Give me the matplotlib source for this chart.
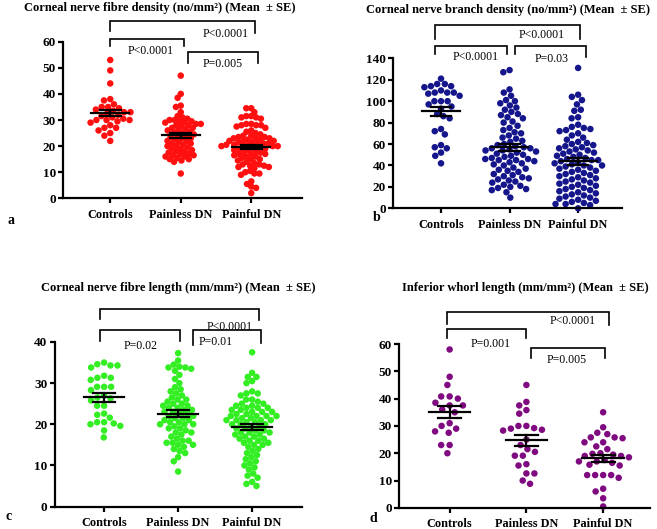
import numpy as np
import matplotlib
matplotlib.use('Agg')
import matplotlib.pyplot as plt

plt.rcParams['font.family'] = ['Liberation Serif', 'DejaVu Serif']

groups = ['Controls', 'Painless DN', 'Painful DN']

# a: corneal nerve fibre density
cnfd_controls = [53, 49, 44, 38, 37.5, 36, 35, 35, 34.5, 34, 33.5, 33, 33, 32.5, 32,
                 31.5, 31, 30.5, 30, 30, 30, 29.5, 29, 28, 27, 27, 26, 25, 24, 22]
cnfd_painless = [47, 40, 38.5, 35.5, 35, 33, 31.5, 31, 30.5, 30, 30, 29.5, 29.5, 29, 29,
                 28.5, 28.5, 28, 28, 27.5, 27, 27, 26.5, 26, 26, 25.5, 25, 25, 24.5, 24,
                 24, 23.5, 23, 23, 22.5, 22, 22, 21.5, 21, 21, 20.5, 20, 20, 19.5, 19,
                 19, 18.5, 18, 18, 17.5, 17, 17, 16.5, 16.5, 16, 16, 15.5, 15, 15, 14.5,
                 14, 9.5]
cnfd_painful = [34.5, 34.5, 33, 31.5, 31.5, 31, 31, 30.5, 28.5, 28.5, 28, 28, 28, 27.5,
                27, 26, 25.5, 25, 24.5, 24, 23.5, 23.5, 23, 23, 23, 22.5, 22.5, 22, 22,
                21.5, 21.5, 21, 21, 20.5, 20.5, 20, 20, 20, 20, 19.5, 19.5, 19, 19, 18.5,
                18.5, 18, 17.5, 17.5, 17, 17, 17, 16.5, 16, 16, 15.5, 15, 15, 14.5, 14,
                13.5, 13, 13, 12.5, 12.5, 12, 12, 11.5, 10.5, 10, 9.5, 9.5, 9, 6.5, 5.5,
                4.5, 4, 2, 24, 22, 21, 20.5]

# b: corneal nerve branch density
cnbd_controls = [121, 116, 116, 114, 114, 113, 110, 108, 108, 108, 107, 105, 100, 100,
                 100, 97, 95, 93, 88, 86, 84, 74, 72, 69, 59, 57, 56, 52, 49, 42]
cnbd_painless = [129, 127, 111, 108, 105, 101, 100, 98, 96, 94, 92, 90, 88, 87, 85, 84,
                 81, 80, 77, 75, 73, 71, 70, 68, 66, 65, 63, 62, 60, 59, 58, 57, 56, 56,
                 55, 54, 54, 53, 52, 51, 50, 49, 48, 47, 46, 46, 45, 45, 44, 43, 42, 41,
                 40, 38, 37, 36, 35, 34, 32, 31, 30, 29, 28, 27, 26, 25, 24, 22, 21, 20,
                 19, 18, 17, 15, 10]
cnbd_painful = [131, 106, 104, 101, 97, 92, 91, 85, 84, 78, 76, 75, 74, 73, 72, 70, 68,
                66, 64, 62, 61, 60, 59, 58, 57, 56, 55, 54, 53, 52, 51, 50, 49, 48, 47,
                46, 45, 45, 44, 43, 42, 41, 40, 40, 39, 38, 37, 36, 35, 34, 33, 32, 31,
                30, 29, 28, 27, 26, 25, 24, 23, 22, 21, 20, 19, 18, 17, 16, 15, 14, 13,
                12, 11, 10, 9, 8, 7, 6, 5, 4, 4, 3, 0]

# c: corneal nerve fibre length
cnfl_controls = [35, 34.3, 34.3, 33.8, 34.6, 31.3, 31.3, 30.8, 31.8, 29.1, 29.1, 29.1,
                 28.3, 27, 26.5, 26.3, 25.8, 24.5, 24.5, 22.6, 22.3, 21.6, 20, 20.5,
                 20.2, 19.6, 20.5, 18.5, 16.8]
cnfl_painless = [37.3, 35.5, 34.5, 34, 33.8, 33.8, 33.5, 33, 32, 31, 30, 29, 28.5, 28,
                 27.5, 27, 26.5, 26, 26, 25.5, 25, 25, 24.5, 24.5, 24, 24, 23.5, 23.5,
                 23, 23, 22.5, 22.5, 22, 22, 21.5, 21.5, 21, 21, 20.5, 20.5, 20, 20, 20,
                 19.5, 19, 19, 18.5, 18, 18, 17.5, 17, 16.5, 16, 16, 15.5, 15.5, 15, 15,
                 14.5, 14, 13.5, 13, 12, 11, 8.5]
cnfl_painful = [37.5, 32.5, 31.5, 31.5, 30.5, 30, 28, 27.5, 27.5, 27, 26, 26, 25.5, 25,
                25, 24.5, 24.5, 24, 24, 23.5, 23.5, 23, 23, 22.5, 22.5, 22, 22, 22, 21.5,
                21.5, 21, 21, 21, 20.5, 20.5, 20, 20, 20, 19.5, 19.5, 19, 19, 18.5, 18.5,
                18, 18, 18, 17.5, 17.5, 17, 17, 16.5, 16.5, 16, 16, 15.5, 15.5, 15, 15,
                14.5, 14, 13.5, 13, 12.5, 12, 11.5, 11, 10.5, 10, 9.5, 9, 8, 7.5, 7, 6,
                5.5, 5, 21, 22, 23, 24]

# d: inferior whorl length
iwl_controls = [58, 48, 45, 40.8, 40.8, 40, 38.5, 37.5, 37.5, 36, 35, 31, 30, 29, 28,
                27.5, 23, 23, 20]
iwl_painless = [45, 38.8, 37.5, 35.8, 34.5, 30, 29, 30, 28.3, 29.2, 28.6, 25, 23, 21.5,
                20.5, 19.1, 19.1, 16, 15.5, 12.6, 12.6, 8.8, 10]
iwl_painful = [35, 29.5, 27.5, 27, 25.8, 25.8, 25.5, 24, 24, 22.5, 21.5, 20, 19.8, 19.5,
               19, 19, 18.5, 17.5, 17, 17, 16.5, 15.8, 15.5, 12, 12, 12, 12, 11, 7, 6,
               3.5, 0.5]

titles = ['Corneal nerve fibre density (no/mm\u00b2) (Mean  \u00b1 SE)',
          'Corneal nerve branch density (no/mm\u00b2) (Mean  \u00b1 SE)',
          'Corneal nerve fibre length (mm/mm\u00b2) (Mean  \u00b1 SE)',
          'Inferior whorl length (mm/mm\u00b2) (Mean  \u00b1 SE)']
p_labels = [['P<0.0001', 'P<0.0001', 'P=0.005'],
            ['P<0.0001', 'P<0.0001', 'P=0.03'],
            ['P<0.0001', 'P=0.02', 'P=0.01'],
            ['P<0.0001', 'P=0.001', 'P=0.005']]

# swarm spacing (px) per group
panels = [
    dict(data=[cnfd_controls, cnfd_painless, cnfd_painful], color='#ff1010',
         diam=[6.4, 5.0, 5.0],
         rect=[0.0959, 0.6251, 0.3638, 0.2961], xlim=(-0.67, 2.72), ylim=(0, 60),
         yticks=np.arange(0, 61, 10), title_xy=(0.2435, 0.984), letter='a',
         letter_xy=(0.012, 0.571),
         brackets=[(0, 2.05, 67.8, 64, 63.3, 1.63, 63),
                   (0, 1.04, 61, 58.2, 58.2, 0.57, 56.3),
                   (1.1, 2.1, 55.9, 51.8, 51.8, 1.59, 51.5)]),
    dict(data=[cnbd_controls, cnbd_painless, cnbd_painful], color='#16168c',
         diam=[6.6, 6.6, 6.6],
         rect=[0.5982, 0.6062, 0.3485, 0.2836], xlim=(-0.70, 2.64), ylim=(0, 140),
         yticks=np.arange(0, 141, 20), title_xy=(0.773, 0.982), letter='b',
         letter_xy=(0.567, 0.577),
         brackets=[(-0.09, 2.03, 171, 157.8, 157.8, 1.47, 161.8),
                   (-0.09, 0.96, 151.5, 144, 144, 0.5, 141),
                   (1.08, 2.12, 151.5, 144, 141.5, 1.61, 139)]),
    dict(data=[cnfl_controls, cnfl_painless, cnfl_painful], color='#33ee22',
         diam=[7.0, 6.0, 6.0],
         rect=[0.0830, 0.0425, 0.3762, 0.3110], xlim=(-0.67, 2.67), ylim=(0, 40),
         yticks=np.arange(0, 41, 10), title_xy=(0.271, 0.4556), letter='c',
         letter_xy=(0.008, 0.011),
         brackets=[(-0.06, 2.09, 48, 45.6, 45.3, 1.70, 43.7),
                   (-0.06, 1.03, 42.9, 40.2, 40.2, 0.49, 39),
                   (1.2, 2.12, 42.9, 39.3, 39.7, 1.51, 39.9)]),
    dict(data=[iwl_controls, iwl_painless, iwl_painful], color='#800a80',
         diam=[8.5, 8.0, 8.0],
         rect=[0.6073, 0.0400, 0.3820, 0.3097], xlim=(-0.66, 2.61), ylim=(0, 60),
         yticks=np.arange(0, 61, 10), title_xy=(0.799, 0.4556), letter='d',
         letter_xy=(0.563, 0.008),
         brackets=[(-0.04, 2.07, 71.7, 67.5, 67.1, 1.6, 68.4),
                   (-0.04, 1.0, 65.5, 62.3, 62.3, 0.54, 60),
                   (1.06, 2.02, 58.4, 54.8, 54.8, 1.52, 54.2)]),
]


def swarm(ax, values, xc, diam):
    """beeswarm x positions, worked out in pixel space"""
    vals = np.asarray(values, dtype=float)
    pts = ax.transData.transform(np.column_stack([np.full(len(vals), xc), vals]))
    ypx = pts[:, 1]
    x0 = pts[0, 0]
    placed = []
    xs = np.zeros(len(vals))
    for i in np.argsort(-ypx, kind='stable'):
        y = ypx[i]
        near = [(px, py) for px, py in placed if abs(py - y) < diam]
        cands = [0.0]
        for px, py in near:
            dx = np.sqrt(diam ** 2 - (py - y) ** 2)
            cands += [px + dx, px - dx]
        cands.sort(key=lambda c: (abs(c), c))
        x = cands[-1]
        for c in cands:
            if all((c - px) ** 2 + (y - py) ** 2 >= diam ** 2 - 1e-6 for px, py in near):
                x = c
                break
        placed.append((x, y))
        xs[i] = x
    back = ax.transData.inverted().transform(np.column_stack([x0 + xs, ypx]))
    return back[:, 0]


fig = plt.figure(figsize=(6.57, 5.29), dpi=100)

for k, p in enumerate(panels):
    ax = fig.add_axes(p['rect'])
    ax.set_xlim(*p['xlim'])
    ax.set_ylim(*p['ylim'])
    for s in ['top', 'right']:
        ax.spines[s].set_visible(False)
    for s in ['left', 'bottom']:
        ax.spines[s].set_linewidth(1.6)
    ax.set_yticks(p['yticks'])
    ax.set_xticks(range(3))
    ax.set_xticklabels(groups)
    ax.tick_params(direction='out', width=1.6, length=3.5, labelsize=9.5, pad=1.5)
    ax.tick_params(axis='x', pad=4.0, labelsize=8.8)
    for lab in ax.get_xticklabels() + ax.get_yticklabels():
        lab.set_fontweight('bold')

    for g, vals in enumerate(p['data']):
        xs = swarm(ax, vals, g, p['diam'][g])
        ax.scatter(xs, vals, s=22, color=p['color'], edgecolors='none',
                   zorder=2, clip_on=False)
        m = np.mean(vals)
        se = np.std(vals, ddof=1) / np.sqrt(len(vals))
        ax.plot([g - 0.27, g + 0.27], [m, m], color='k', lw=1.6, zorder=4)
        ax.plot([g, g], [m - se, m + se], color='k', lw=1.6, zorder=4)
        for yy in [m - se, m + se]:
            ax.plot([g - 0.15, g + 0.15], [yy, yy], color='k', lw=1.6, zorder=4)

    for (x0, x1, yt, yl, yr, tx, ty), lab in zip(p['brackets'], p_labels[k]):
        ax.plot([x0, x0, x1, x1], [yl, yt, yt, yr], color='k', lw=1.2,
                clip_on=False, solid_joinstyle='miter')
        ax.text(tx, ty, lab, ha='center', va='center', fontsize=8.5)

    fig.text(p['title_xy'][0], p['title_xy'][1], titles[k], ha='center',
             va='center', fontsize=9.0, fontweight='bold')
    fig.text(p['letter_xy'][0], p['letter_xy'][1], p['letter'], ha='left',
             va='bottom', fontsize=10, fontweight='bold')

fig.savefig('out.png', dpi=100)
